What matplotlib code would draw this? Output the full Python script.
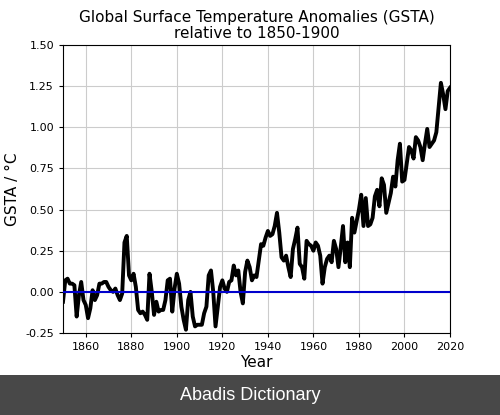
import matplotlib
matplotlib.use("Agg")
import matplotlib.pyplot as plt
from matplotlib.patches import Rectangle

years = list(range(1850, 2021))
gsta = [
    -0.06, 0.07, 0.08, 0.05, 0.05, 0.04, -0.15, -0.02, 0.06, -0.05,   # 1850-1859
    -0.08, -0.16, -0.10, 0.01, -0.05, -0.02, 0.05, 0.05, 0.06, 0.06,  # 1860-1869
    0.03, 0.01, 0.00, 0.02, -0.02, -0.05, -0.01, 0.30, 0.34, 0.10,    # 1870-1879
    0.07, 0.11, 0.03, -0.11, -0.13, -0.12, -0.14, -0.17, 0.11, 0.00,  # 1880-1889
    -0.14, -0.06, -0.12, -0.11, -0.11, -0.05, 0.07, 0.08, -0.12, 0.02,  # 1890-1899
    0.11, 0.05, -0.09, -0.17, -0.23, -0.05, 0.00, -0.15, -0.21, -0.20,  # 1900-1909
    -0.20, -0.20, -0.13, -0.09, 0.10, 0.13, 0.00, -0.21, -0.09, 0.03,   # 1910-1919
    0.07, 0.02, 0.00, 0.06, 0.07, 0.16, 0.10, 0.13, 0.00, -0.07,        # 1920-1929
    0.12, 0.19, 0.15, 0.07, 0.10, 0.09, 0.19, 0.29, 0.28, 0.33,         # 1930-1939
    0.37, 0.34, 0.35, 0.40, 0.48, 0.36, 0.21, 0.19, 0.22, 0.15,         # 1940-1949
    0.09, 0.26, 0.32, 0.39, 0.17, 0.15, 0.08, 0.31, 0.29, 0.28,         # 1950-1959
    0.25, 0.30, 0.28, 0.22, 0.05, 0.15, 0.20, 0.22, 0.18, 0.31,         # 1960-1969
    0.26, 0.15, 0.27, 0.40, 0.18, 0.30, 0.15, 0.45, 0.36, 0.43,         # 1970-1979
    0.50, 0.59, 0.40, 0.57, 0.40, 0.41, 0.45, 0.58, 0.62, 0.52,         # 1980-1989
    0.69, 0.65, 0.48, 0.54, 0.60, 0.70, 0.64, 0.80, 0.90, 0.67,         # 1990-1999
    0.68, 0.78, 0.88, 0.86, 0.81, 0.94, 0.92, 0.88, 0.80, 0.90,         # 2000-2009
    0.99, 0.88, 0.90, 0.92, 0.97, 1.12, 1.27, 1.20, 1.11, 1.22,         # 2010-2019
    1.24,                                                               # 2020
]
xticks = [1860, 1880, 1900, 1920, 1940, 1960, 1980, 2000, 2020]
yticks = [-0.25, 0.00, 0.25, 0.50, 0.75, 1.00, 1.25, 1.50]

fig = plt.figure(figsize=(5.0, 4.15), dpi=100)
ax = fig.add_axes([0.126, 0.1976, 0.774, 0.694])

ax.plot(years, gsta, color="black", lw=2.8, zorder=3)
ax.axhline(0, color="#0000cc", lw=1.5, zorder=4)

ax.set_xlim(1850, 2020)
ax.set_ylim(-0.25, 1.50)
ax.set_xticks(xticks)
ax.set_yticks(yticks)
ax.set_yticklabels([f"{v:.2f}" for v in yticks])
ax.tick_params(labelsize=8, length=3)
ax.grid(True, color="#cccccc", lw=0.8)
ax.set_axisbelow(True)

ax.set_title("Global Surface Temperature Anomalies (GSTA)\nrelative to 1850-1900",
             fontsize=11, linespacing=1.1, pad=5)
ax.set_xlabel("Year", fontsize=11, labelpad=2)
ax.set_ylabel("GSTA / °C", fontsize=11, labelpad=4)

fig.patches.append(Rectangle((0, 0), 1, 40 / 415, transform=fig.transFigure,
                             facecolor="#484848", edgecolor="none", zorder=10))
fig.text(0.5, 20 / 415, "Abadis Dictionary", color="white", ha="center", va="center",
         fontsize=13, family="Liberation Sans", zorder=11)

fig.savefig("out.png", dpi=100)
